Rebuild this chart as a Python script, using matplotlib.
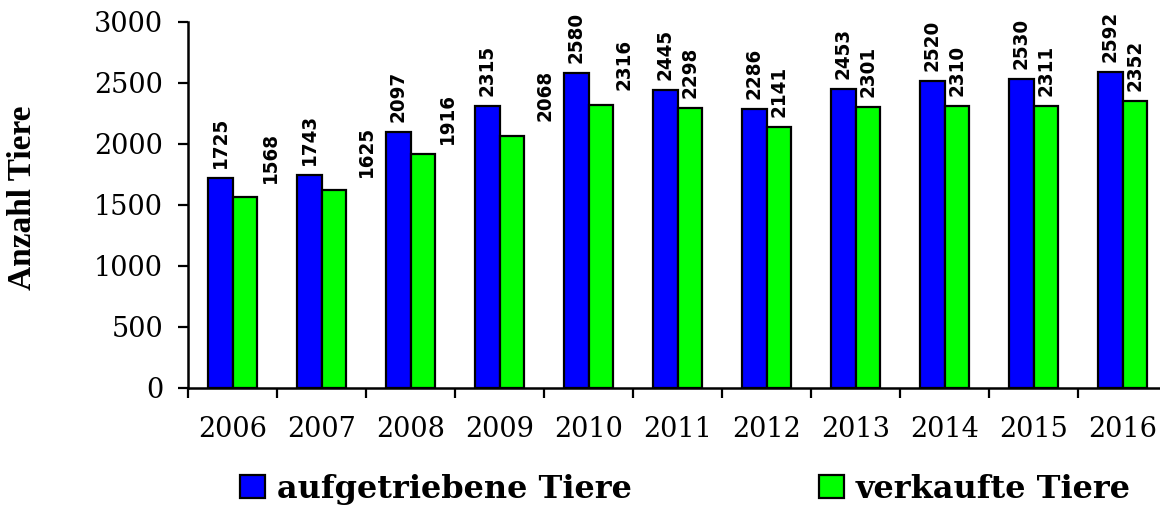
import numpy as np
import matplotlib.pyplot as plt
from matplotlib.ticker import FixedLocator

# Data
years = ["2006", "2007", "2008", "2009", "2010", "2011",
         "2012", "2013", "2014", "2015", "2016"]
aufgetrieben = [1725, 1743, 2097, 2315, 2580, 2445, 2286, 2453, 2520, 2530, 2592]
verkauft = [1568, 1625, 1916, 2068, 2316, 2298, 2141, 2301, 2310, 2311, 2352]

# label nudges (pixels) for the green bar labels, as placed in the original
green_dx = [26, 33, 25, 33, 23, 0, 0, 0, 0, 0, 0]
green_dy = [14, 13, 10, 15, 15, 10, 10, 10, 10, 10, 10]

fig = plt.figure(figsize=(11.6, 5.05), dpi=100)
ax = fig.add_axes([0.1621, 0.2317, 0.844, 0.7248])

x = np.arange(len(years))
w = 0.275
ax.bar(x - w / 2, aufgetrieben, w, color="#0000ff", edgecolor="black",
       linewidth=1.6, label="aufgetriebene Tiere")
ax.bar(x + w / 2, verkauft, w, color="#00ff00", edgecolor="black",
       linewidth=1.6, label="verkaufte Tiere")

lab_font = dict(family="DejaVu Sans", weight="bold", stretch="condensed", size=14.7)
for i in range(len(years)):
    ax.annotate(str(aufgetrieben[i]), (x[i] - w / 2, aufgetrieben[i]),
                xytext=(0, 10), textcoords="offset pixels", rotation=90,
                ha="center", va="bottom", **lab_font)
    ax.annotate(str(verkauft[i]), (x[i] + w / 2, verkauft[i]),
                xytext=(green_dx[i], green_dy[i]), textcoords="offset pixels",
                rotation=90, ha="center", va="bottom", **lab_font)

ax.set_xlim(-0.5, len(years) - 0.5)
ax.set_ylim(0, 3000)
ax.set_yticks(np.arange(0, 3001, 500))

# ticks between the groups, year labels in the middle
ax.xaxis.set_major_locator(FixedLocator(x - 0.5))
ax.xaxis.set_major_formatter(plt.NullFormatter())
ax.set_xticks(x, minor=True)
ax.set_xticklabels(years, minor=True)
ax.tick_params(axis="x", which="major", length=7, width=1.6, direction="out")
ax.tick_params(axis="x", which="minor", length=0, pad=20)
ax.tick_params(axis="y", length=7, width=1.6, direction="out", pad=11)

for t in ax.get_yticklabels() + ax.get_xticklabels(minor=True):
    t.set_fontfamily("DejaVu Serif")
    t.set_fontsize(19.5)

for side in ["top", "right"]:
    ax.spines[side].set_visible(False)
for side in ["left", "bottom"]:
    ax.spines[side].set_linewidth(1.8)

fig.text(0.019, 0.608, "Anzahl Tiere", rotation=90, ha="center", va="center",
         family="Liberation Serif", weight="bold", size=24)

fig.legend(loc="lower left", bbox_to_anchor=(0.207, 0.0), ncol=2, frameon=False,
           prop=dict(family="DejaVu Serif", weight="bold", size=23),
           borderpad=0, borderaxespad=0,
           handlelength=0.78, handleheight=0.72, handletextpad=0.38,
           columnspacing=5.85)

fig.savefig("out.png", dpi=100)
